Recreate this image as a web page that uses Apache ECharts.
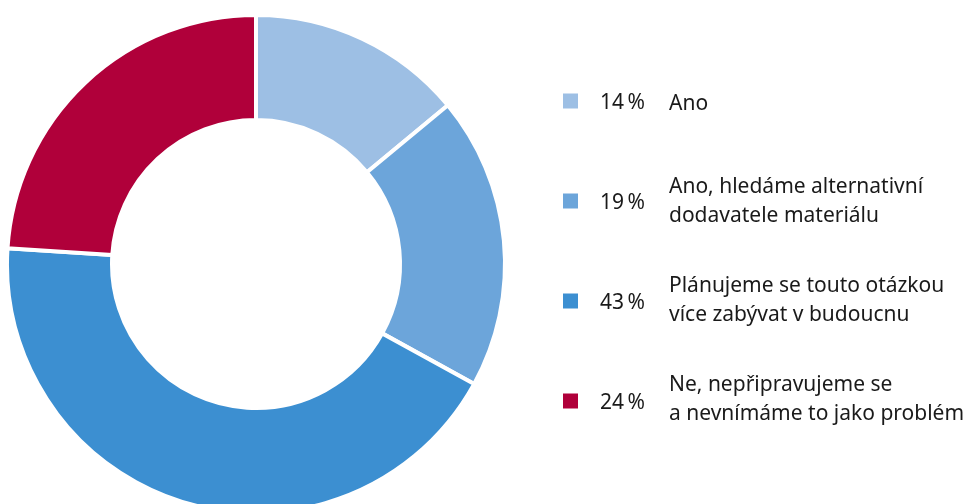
<!DOCTYPE html>
<html>
<head>
<meta charset="utf-8">
<script src="https://cdn.jsdelivr.net/npm/echarts@6/dist/echarts.min.js"></script>
<style>
  html, body { margin: 0; padding: 0; background: #ffffff; }
  #chart { width: 973px; height: 504px; }
</style>
</head>
<body>
<div id="chart"></div>
<script>
const categories = [
  'Ano',
  'Ano, hledáme alternativní\ndodavatele materiálu',
  'Plánujeme se touto otázkou\nvíce zabývat v budoucnu',
  'Ne, nepřipravujeme se\na nevnímáme to jako problém'
];
const values = [14, 19, 43, 24];
const colors = ['#9dbfe4', '#6ca5da', '#3c8fd1', '#b0003a'];

const FONT = '"Noto Sans"';
const FS = 21;
const TXT = '#1a1a1a';
const chart = echarts.init(document.getElementById('chart'), null, { renderer: 'canvas' });

const pieData = categories.map((name, i) => ({
  name: name,
  value: values[i],
  itemStyle: { color: colors[i] }
}));

function pctOf(name) {
  const i = categories.indexOf(name);
  return values[i] + '\u2009%';
}

const singleLine = categories.filter(c => c.indexOf('\n') < 0);
const multiLine = categories.filter(c => c.indexOf('\n') >= 0);

const nameLegendBase = {
  orient: 'vertical',
  left: 669,
  padding: 0,
  itemWidth: 0,
  itemHeight: 0,
  itemGap: 41,
  icon: 'rect',
  selectedMode: false,
  itemStyle: { borderWidth: 0, opacity: 0 },
  textStyle: { fontFamily: FONT, fontSize: FS, color: TXT, lineHeight: 29, padding: [0, 0, 0, -5] }
};

chart.setOption({
  backgroundColor: '#ffffff',
  animation: false,
  legend: [
    {
      orient: 'vertical',
      left: 563,
      top: 88.5,
      padding: 0,
      itemWidth: 15,
      itemHeight: 15,
      itemGap: 75,
      icon: 'rect',
      selectedMode: false,
      itemStyle: { borderWidth: 0 },
      data: categories,
      formatter: function (name) { return '{p|' + pctOf(name) + '}'; },
      textStyle: {
        fontFamily: FONT,
        fontSize: FS,
        color: TXT,
        rich: {
          p: { fontFamily: FONT, fontSize: FS, color: TXT, lineHeight: 20, padding: [4, 0, 0, 17] }
        }
      }
    },
    Object.assign({}, nameLegendBase, { top: 89.3, data: singleLine }),
    Object.assign({}, nameLegendBase, { top: 173, data: multiLine })
  ],
  series: [
    {
      type: 'pie',
      center: [256, 264],
      radius: [144, 249],
      startAngle: 90,
      clockwise: true,
      avoidLabelOverlap: false,
      label: { show: false },
      labelLine: { show: false },
      emphasis: { disabled: true },
      itemStyle: { borderColor: '#ffffff', borderWidth: 4 },
      data: pieData
    }
  ]
});
</script>
</body>
</html>
